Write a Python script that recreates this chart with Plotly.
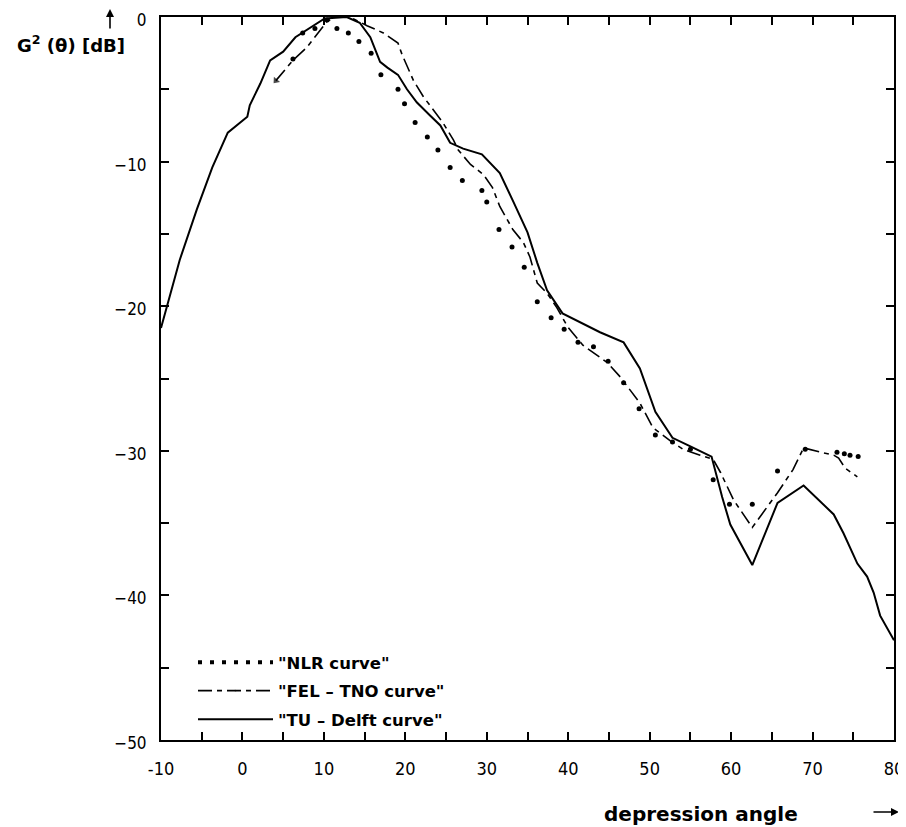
import plotly.graph_objects as go

# ---- data ----
tu_x = [-10, -9.3, -7.7, -5.6, -3.7, -1.8, -0.9, 0.6, 0.9, 2.2, 3.4, 5.0, 6.5, 7.9, 10.1,
        12.8, 14.4, 15.7, 16.9, 17.8, 19.1, 20.2, 21.4, 23.0, 24.3, 25.5, 27.1, 29.4, 31.6,
        33.2, 35.0, 36.2, 37.4, 39.3, 43.9, 46.8, 48.8, 50.7, 52.8, 55.0, 57.6, 58.9, 59.9,
        62.6, 65.7, 68.9, 72.6, 73.8, 75.5, 76.7, 77.5, 78.3, 80]
tu_y = [-21.5, -20.1, -16.8, -13.3, -10.4, -8.0, -7.6, -6.9, -6.1, -4.6, -3.0, -2.4, -1.4,
        -0.9, -0.1, 0, -0.4, -1.4, -3.1, -3.5, -4.0, -5.0, -5.9, -6.8, -7.5, -8.7, -9.1,
        -9.5, -10.8, -12.7, -14.9, -17.0, -18.9, -20.5, -21.8, -22.5, -24.3, -27.3, -29.1,
        -29.7, -30.4, -33.2, -35.1, -37.9, -33.6, -32.4, -34.4, -35.7, -37.8, -38.7, -39.8,
        -41.4, -43.1]

fel_x = [4.1, 6.2, 7.9, 9.3, 10.4, 11.4, 13.2, 15.3, 17.3, 19.1, 19.6, 21.0, 22.2, 23.4,
         24.6, 25.9, 26.5, 28.0, 29.6, 30.7, 31.6, 33.2, 34.5, 35.3, 36.2, 37.4, 38.6, 39.9,
         41.8, 44.8, 46.4, 48.8, 50.4, 52.5, 54.1, 56.2, 57.8, 58.7, 60.3, 62.6, 65.7, 67.6,
         68.9, 71.0, 72.6, 73.2, 74.0, 75.5]
fel_y = [-4.4, -3.0, -2.1, -1.1, -0.3, 0, 0, -0.6, -1.1, -1.8, -2.6, -4.4, -5.5, -6.4, -7.3,
         -8.5, -9.2, -10.2, -10.9, -11.8, -13.1, -14.7, -15.6, -16.6, -18.4, -19.1, -20.1,
         -21.4, -22.7, -23.9, -24.9, -26.7, -28.4, -29.3, -29.9, -30.3, -30.6, -31.5, -33.4,
         -35.3, -32.9, -31.3, -29.8, -30.1, -30.3, -30.5, -31.2, -31.8]

nlr_x = [6.2, 7.4, 8.9, 10.4, 11.6, 13.0, 14.3, 15.8, 17.0, 19.1, 19.9, 21.2, 22.7, 24.0,
         25.5, 27.0, 29.4, 30.0, 31.5, 33.1, 34.6, 36.2, 37.9, 39.5, 41.2, 43.1, 44.9, 46.8,
         48.7, 50.7, 52.8, 55.0, 57.8, 59.8, 62.6, 65.7, 69.1, 73.0, 73.9, 74.6, 75.6]
nlr_y = [-2.9, -1.1, -0.8, -0.2, -0.8, -1.1, -1.7, -2.5, -4.0, -5.0, -6.0, -7.3, -8.3, -9.2,
         -10.4, -11.3, -12.0, -12.8, -14.7, -15.9, -17.3, -19.7, -20.8, -21.6, -22.5, -22.8,
         -23.8, -25.3, -27.1, -28.9, -29.4, -29.9, -32.0, -33.7, -33.7, -31.4, -29.9, -30.1,
         -30.2, -30.3, -30.4]

x_ticks = [-10, 0, 10, 20, 30, 40, 50, 60, 70, 80]
y_ticks = [0, -10, -20, -30, -40, -50]

# page geometry (the page body has an 8px margin, compensated here)
OFF = 8
FIG_W, FIG_H = 906 - OFF, 827 - OFF
PL, PR, PT, PB = 161, 894, 17, 740  # plot area in window pixels
PW, PH = PR - PL, PB - PT


def px(xp):
    return (xp - PL) / PW


def py(yp):
    return (PB - yp) / PH


bold_font = "DejaVu Sans, Verdana, sans-serif"
label_font = dict(family=bold_font, size=16.5, color="black", weight="bold")
tick_family = "Liberation Sans Narrow, DejaVu Sans Condensed, Liberation Sans, sans-serif"

fig = go.Figure()

fig.add_trace(go.Scatter(x=nlr_x, y=nlr_y, mode="markers", name='"NLR curve"',
                         marker=dict(color="black", size=5, symbol="circle"),
                         showlegend=False, legendgroup="a"))
fig.add_trace(go.Scatter(x=[None], y=[None], mode="lines", name='"NLR curve"',
                         line=dict(color="black", width=4, dash="4px,8px"),
                         legendgroup="a"))
# arrow-like tip at the start of the FEL-TNO curve
fel_marker_size = [7] + [0] * (len(fel_x) - 1)
fig.add_trace(go.Scatter(x=fel_x, y=fel_y, mode="lines+markers", name='"FEL – TNO curve"',
                         line=dict(color="black", width=1.6, dash="14px,5px,5px,5px"),
                         marker=dict(color="black", size=fel_marker_size, symbol="triangle-up",
                                     angle=220, line=dict(width=0)),
                         legendgroup="b"))
fig.add_trace(go.Scatter(x=tu_x, y=tu_y, mode="lines", name='"TU – Delft curve"',
                         line=dict(color="black", width=2),
                         legendgroup="c"))

axis_common = dict(
    showgrid=False, zeroline=False, showline=True, linecolor="black", linewidth=2,
    mirror="allticks", ticks="inside", ticklen=8, tickwidth=1.5, tickcolor="black",
    automargin=False, ticklabeloverflow="allow",
)

fig.update_xaxes(range=[-10, 80], tickvals=x_ticks, ticktext=[str(v) for v in x_ticks],
                 minor=dict(dtick=5, ticks="inside", ticklen=8, tickwidth=1.5, tickcolor="black"),
                 ticklabelstandoff=11, tickfont=dict(family=tick_family, size=18, color="black"),
                 **axis_common)
fig.update_yaxes(range=[-50, 0], tickvals=y_ticks, ticktext=[str(v).replace("-", "−") for v in y_ticks],
                 minor=dict(dtick=5, ticks="inside", ticklen=8, tickwidth=1.5, tickcolor="black"),
                 ticklabelstandoff=9, ticklabelshift=3,
                 tickfont=dict(family=tick_family, size=17, color="black"),
                 **axis_common)

fig.update_layout(
    width=FIG_W, height=FIG_H,
    margin=dict(l=PL - OFF, r=FIG_W - (PR - OFF), t=PT - OFF, b=FIG_H - (PB - OFF)),
    plot_bgcolor="white", paper_bgcolor="white",
    legend=dict(x=px(193), y=py(645), xanchor="left", yanchor="top",
                font=label_font, itemwidth=75, traceorder="grouped", tracegroupgap=4,
                bgcolor="rgba(0,0,0,0)"),
    annotations=[
        dict(text="G<sup>2</sup> (θ) [dB]", xref="paper", yref="paper",
             x=px(71), y=py(44), showarrow=False,
             xanchor="center", yanchor="middle",
             font=dict(family=bold_font, size=18, color="black", weight="bold")),
        dict(text="", xref="paper", yref="paper", x=px(110), y=py(4),
             ax=0, ay=26, showarrow=True, arrowhead=2, arrowsize=1, arrowwidth=1.6, arrowcolor="black"),
        dict(text="depression angle", xref="paper", yref="paper",
             x=px(701), y=py(814), showarrow=False,
             xanchor="center", yanchor="middle",
             font=dict(family=bold_font, size=20, color="black", weight="bold")),
        dict(text="", xref="paper", yref="paper", x=px(899), y=py(812),
             ax=-27, ay=0, showarrow=True, arrowhead=2, arrowsize=1, arrowwidth=1.6, arrowcolor="black"),
    ],
)

fig.write_html("out.html")
